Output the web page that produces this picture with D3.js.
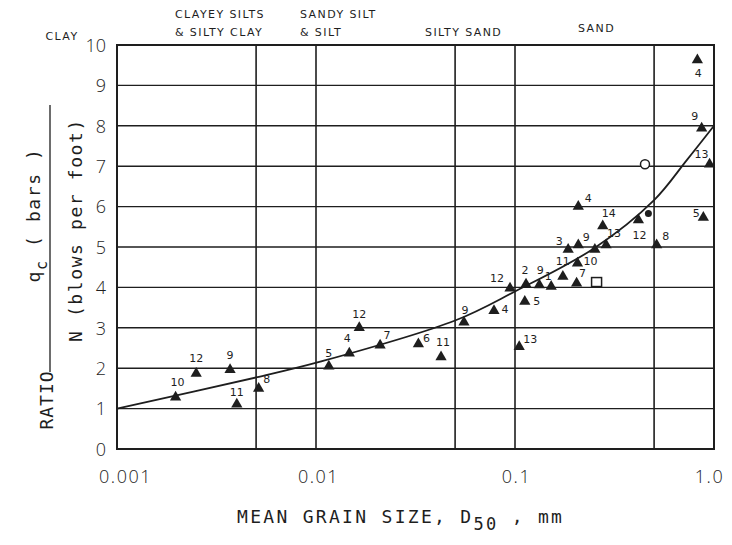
<!DOCTYPE html>
<html><head><meta charset="utf-8">
<script src="https://cdn.jsdelivr.net/npm/d3@7"></script>
<style>
body{margin:0;background:#fff;}
svg{display:block;}
</style></head>
<body>
<svg id="chart" width="732" height="545"></svg>
<script>
// ---- data ----
const triX = [0.00197,0.0025,0.0037,0.0040,0.00515,0.0116,0.0147,0.0165,0.021,0.0327,0.0425,0.0554,0.0784,0.112,0.105,0.0944,0.1136,0.1325,0.152,0.174,0.204,0.206,0.185,0.208,0.252,0.287,0.276,0.208,0.417,0.515,0.884,0.825,0.867,0.95];
const triY = [1.28,1.87,1.96,1.11,1.50,2.05,2.37,3.0,2.57,2.60,2.28,3.14,3.42,3.65,2.53,3.98,4.08,4.06,4.02,4.27,4.10,4.60,4.94,5.05,4.94,5.05,5.52,6.00,5.67,5.05,5.73,9.63,7.94,7.05];
const triLabel = ["10","12","9","11","8","5","4","12","7","6","11","9","4","5","13","12","2","9","1","11","7","10","3","9","","13","14","4","12","8","5","4","9","13"];
const openCircleX = [0.450], openCircleY = [7.05];
const openSquareX = [0.257], openSquareY = [4.12];
const dotX = [0.468], dotY = [5.83];
const curveX = [0.001,0.005,0.0105,0.05,0.1,0.25,0.5,0.73,1.0];
const curveY = [1.0,1.77,2.16,3.18,3.9,4.97,6.16,7.15,8.0];
const yTicks = [0,1,2,3,4,5,6,7,8,9,10];
const xTicks = [0.001,0.01,0.1,1];
const xTickLabels = ["0.001","0.01","0.1","1.0"];
const gridY = [1,2,3,4,5,6,7,8,9];
const boundaries = [0.005,0.01,0.05,0.1,0.5];
const soilNames = [["CLAY"],["CLAYEY SILTS","& SILTY CLAY"],["SANDY SILT","& SILT"],["SILTY SAND"],["SAND"]];

// ---- layout (label placement relative to each triangle) ----
const labelOff = [[2,-15],[0,-15],[0,-15],[0,-12],[8,-9],[0,-13],[-2,-15],[0,-14],[7,-10],[8,-6],[2,-15],[1,-12],[11,-2],[12,0],[11,-8],[-13,-10],[-1,-14],[1,-15],[-3,-10],[0,-15],[6,-10],[13,-2],[-9,-8],[8,-8],[0,0],[8,-12],[6,-13],[10,-8],[1,15],[9,-9],[-7,-4],[1,13],[-7,-12],[-8,-10]];
const soilPos = [[62,40,"middle"],[175,18,"start"],[300,18,"start"],[425,36,"start"],[578,32,"start"]];

const svg = d3.select("#chart");
const x = d3.scaleLog().domain([0.001,1]).range([117,714]);
const y = d3.scaleLinear().domain([0,10]).range([449,45]);
const ink = "#1e1e1e";

// grid
svg.append("g").selectAll("line").data(gridY).join("line")
  .attr("x1",x(0.001)).attr("x2",x(1)).attr("y1",d=>y(d)).attr("y2",d=>y(d))
  .attr("stroke",ink).attr("stroke-width",1.4);
svg.append("g").selectAll("line").data(boundaries).join("line")
  .attr("x1",d=>x(d)).attr("x2",d=>x(d)).attr("y1",y(0)).attr("y2",y(10))
  .attr("stroke",ink).attr("stroke-width",1.6);
svg.append("rect").attr("x",x(0.001)).attr("y",y(10)).attr("width",x(1)-x(0.001)).attr("height",y(0)-y(10))
  .attr("fill","none").attr("stroke",ink).attr("stroke-width",2);

// axes
const yAxis = svg.append("g").attr("transform",`translate(${x(0.001)-8},0)`)
  .call(d3.axisLeft(y).tickValues(yTicks).tickSize(0).tickFormat(d3.format("d")));
yAxis.select(".domain").remove();
yAxis.selectAll("text").attr("font-family","Open Sans, DejaVu Sans").attr("font-weight",300).attr("font-size",18).attr("fill",ink).attr("dy","0.35em");
const xAxis = svg.append("g").attr("transform",`translate(0,${y(0)+18})`)
  .call(d3.axisBottom(x).tickValues(xTicks).tickSize(0).tickFormat((d,i)=>xTickLabels[i]));
xAxis.select(".domain").remove();
xAxis.selectAll("text").attr("font-family","Open Sans, DejaVu Sans").attr("font-weight",300).attr("font-size",18).attr("fill",ink)
  .attr("letter-spacing",1.5).attr("dx",(d,i)=>[8,2,1,-5][i]);

// curve
const line = d3.line().x(d=>x(d[0])).y(d=>y(d[1])).curve(d3.curveCatmullRom.alpha(0.5));
svg.append("path").datum(curveX.map((v,i)=>[v,curveY[i]])).attr("d",line)
  .attr("fill","none").attr("stroke",ink).attr("stroke-width",1.8);

// triangles
const tri = d3.symbol().type(d3.symbolTriangle).size(55);
const triData = triX.map((v,i)=>({x:v,y:triY[i],l:triLabel[i],o:labelOff[i]}));
svg.append("g").selectAll("path").data(triData).join("path")
  .attr("d",tri).attr("transform",d=>`translate(${x(d.x)},${y(d.y)})`).attr("fill",ink);
svg.append("g").selectAll("text").data(triData.filter(d=>d.l)).join("text")
  .attr("x",d=>x(d.x)+d.o[0]).attr("y",d=>y(d.y)+d.o[1]).attr("dy","0.35em")
  .attr("text-anchor","middle").attr("font-family","DejaVu Sans").attr("font-size",11).attr("fill",ink).text(d=>d.l);

// other markers
svg.append("g").selectAll("circle").data(openCircleX).join("circle")
  .attr("cx",d=>x(d)).attr("cy",(d,i)=>y(openCircleY[i])).attr("r",4.5)
  .attr("fill","#fff").attr("stroke",ink).attr("stroke-width",1.5);
svg.append("g").selectAll("rect").data(openSquareX).join("rect")
  .attr("x",d=>x(d)-5).attr("y",(d,i)=>y(openSquareY[i])-5).attr("width",10).attr("height",9)
  .attr("fill","#fff").attr("stroke",ink).attr("stroke-width",1.5);
svg.append("g").selectAll("circle").data(dotX).join("circle")
  .attr("cx",d=>x(d)).attr("cy",(d,i)=>y(dotY[i])).attr("r",3.5).attr("fill",ink);

// soil class names
soilNames.forEach((lines,i)=>{
  const p = soilPos[i];
  const t = svg.append("text").attr("x",p[0]).attr("y",p[1]).attr("text-anchor",p[2])
    .attr("font-family","DejaVu Sans").attr("font-size",11).attr("letter-spacing",1.4).attr("fill",ink);
  lines.forEach((s,j)=>t.append("tspan").attr("x",p[0]).attr("dy",j?18:0).text(s));
});

// x label
const xl = svg.append("text").attr("x",237).attr("y",523).attr("font-family","DejaVu Sans Mono")
  .attr("font-size",18).attr("letter-spacing",2.3).attr("fill",ink);
xl.append("tspan").text("MEAN GRAIN SIZE, D");
xl.append("tspan").attr("dy",7).attr("font-size",17).text("50");
xl.append("tspan").attr("dy",-7).text(" , mm");

// y label (fraction)
const mono = "DejaVu Sans Mono";
svg.append("text").attr("transform","translate(82,230) rotate(-90)").attr("text-anchor","middle")
  .attr("font-family",mono).attr("font-size",18).attr("letter-spacing",1.6).attr("fill",ink).text("N (blows per foot)");
const num = svg.append("text").attr("transform","translate(40,215) rotate(-90)").attr("text-anchor","middle")
  .attr("font-family",mono).attr("font-size",18).attr("letter-spacing",1.6).attr("fill",ink);
num.append("tspan").text("q");
num.append("tspan").attr("dy",7).attr("font-size",15).text("c");
num.append("tspan").attr("dy",-7).text(" ( bars )");
svg.append("line").attr("x1",50).attr("x2",50).attr("y1",105).attr("y2",372).attr("stroke",ink).attr("stroke-width",1.3);
svg.append("text").attr("transform","translate(53,400) rotate(-90)").attr("text-anchor","middle")
  .attr("font-family",mono).attr("font-size",18).attr("letter-spacing",1).attr("fill",ink).text("RATIO");
</script>
</body></html>
